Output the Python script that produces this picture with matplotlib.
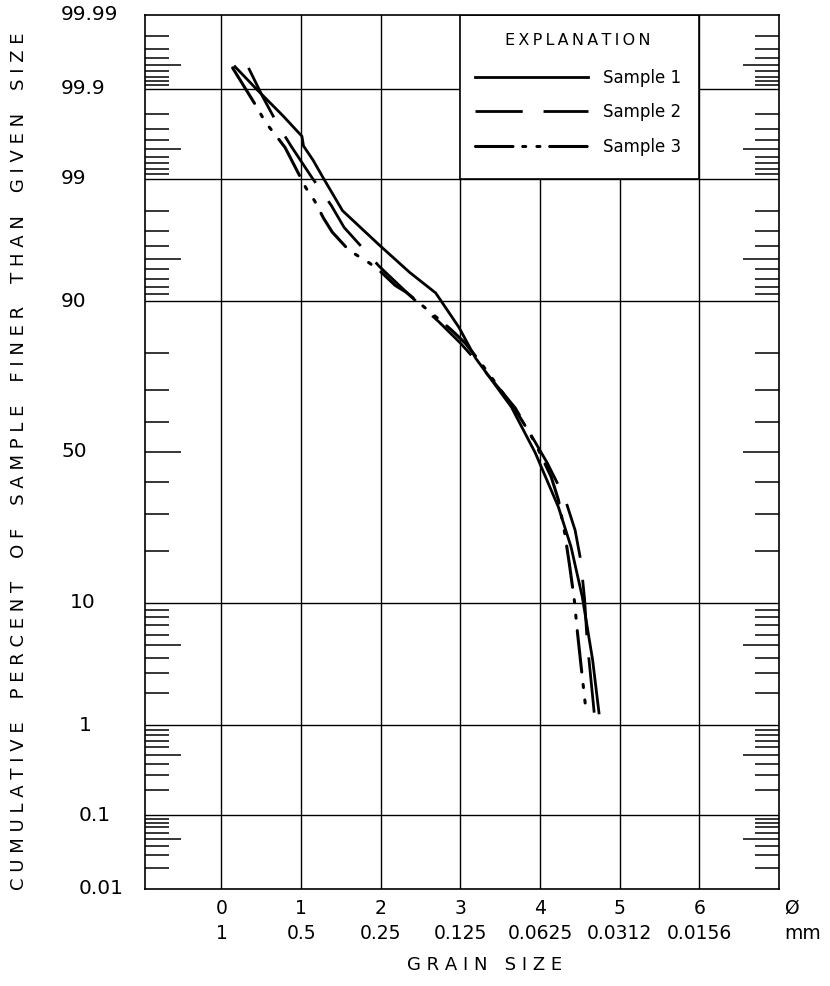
import numpy as np
import matplotlib
matplotlib.use("Agg")
import matplotlib.pyplot as plt
from matplotlib.patches import Rectangle
from matplotlib.lines import Line2D
from matplotlib.ticker import FixedLocator, NullFormatter
from matplotlib.transforms import blended_transform_factory
from statistics import NormalDist

plt.rcParams["font.family"] = ["DejaVu Sans"]
plt.rcParams["lines.scale_dashes"] = False

# grain size (phi) vs cumulative percent finer
phi_1 = [0.17, 0.45, 0.77, 1.01, 1.03, 1.15, 1.27, 1.52, 1.98, 2.36, 2.69,
         2.98, 3.19, 3.64, 3.94, 4.23, 4.39, 4.53, 4.66, 4.74]
pct_1 = [99.948, 99.897, 99.79, 99.64, 99.54, 99.35, 99.04, 98.0, 96.1, 93.7,
         91.2, 85.6, 78.8, 64.9, 49.7, 32.0, 20.9, 10.9, 3.84, 1.32]

phi_2 = [0.34, 0.52, 0.71, 0.88, 1.13, 1.38, 1.54, 1.98, 2.39, 2.73, 3.0,
         3.19, 3.69, 4.09, 4.31, 4.44, 4.51, 4.56, 4.59, 4.68]
pct_2 = [99.946, 99.874, 99.73, 99.53, 99.04, 98.2, 97.2, 94.3, 90.6, 86.6,
         82.3, 78.3, 64.6, 46.3, 34.8, 25.3, 17.9, 10.4, 5.5, 1.32]

phi_3 = [0.14, 0.45, 0.55, 0.68, 0.80, 1.06, 1.17, 1.28, 1.39, 1.60, 1.86,
         2.02, 2.18, 2.32, 2.77, 2.89, 3.06, 3.23, 3.69, 3.80, 3.94, 4.14,
         4.23, 4.31, 4.37, 4.43, 4.47, 4.52, 4.58]
pct_3 = [99.946, 99.83, 99.75, 99.65, 99.52, 98.77, 98.37, 97.68, 96.94, 95.7,
         94.6, 93.6, 92.2, 91.3, 86.6, 85.0, 82.3, 78.3, 64.0, 59.4, 53.0,
         41.6, 34.2, 24.5, 16.8, 10.4, 6.2, 3.2, 1.32]

phi_ticks = [0, 1, 2, 3, 4, 5, 6]
mm_labels = ["1", "0.5", "0.25", "0.125", "0.0625", "0.0312", "0.0156"]

pct_labels = [0.01, 0.1, 1, 10, 50, 90, 99, 99.9, 99.99]
pct_grid = [0.1, 1, 10, 90, 99, 99.9]
pct_long = [0.05, 0.5, 5, 50, 95, 99.5, 99.95]
pct_short = [0.02, 0.03, 0.04, 0.06, 0.07, 0.08, 0.09,
             0.2, 0.3, 0.4, 0.6, 0.7, 0.8, 0.9,
             2, 3, 4, 6, 7, 8, 9,
             20, 30, 40, 60, 70, 80,
             91, 92, 93, 94, 96, 97, 98,
             99.1, 99.2, 99.3, 99.4, 99.6, 99.7, 99.8,
             99.91, 99.92, 99.93, 99.94, 99.96, 99.97, 99.98]

nd = NormalDist()
_ppf = np.vectorize(nd.inv_cdf, otypes=[float])
_cdf = np.vectorize(nd.cdf, otypes=[float])


def forward(p):
    p = np.clip(np.asarray(p, dtype=float) / 100.0, 1e-12, 1 - 1e-12)
    return _ppf(p)


def inverse(z):
    return 100.0 * _cdf(np.asarray(z, dtype=float))


fig = plt.figure(figsize=(8.3, 9.86), dpi=100)
ax = fig.add_axes([145 / 830, 97 / 986, 634 / 830, 874 / 986])
ax.set_yscale("function", functions=(forward, inverse))
ax.set_xlim(-0.96, 7.0)
ax.set_ylim(0.01, 99.99)

for s in ax.spines.values():
    s.set_linewidth(1.2)

# grid
for x in phi_ticks:
    ax.axvline(x, color="black", lw=1.0, zorder=1)
for p in pct_grid:
    ax.axhline(p, color="black", lw=1.0, zorder=1)

# inner ticks on both sides
ax.yaxis.set_major_locator(FixedLocator(pct_long))
ax.yaxis.set_minor_locator(FixedLocator(pct_short))
ax.yaxis.set_major_formatter(NullFormatter())
ax.yaxis.set_minor_formatter(NullFormatter())
ax.tick_params(axis="y", which="major", direction="in", length=26, width=1.1,
               left=True, right=True)
ax.tick_params(axis="y", which="minor", direction="in", length=17, width=1.1,
               left=True, right=True)

# y labels
ytr = blended_transform_factory(fig.transFigure, ax.transData)
for p in pct_labels:
    lab = f"{p:g}"
    x0 = 61 if p >= 50 else (70 if p == 10 else 79)
    ax.text(x0 / 830, p, lab, transform=ytr, ha="left", va="center",
            fontsize=14.5, clip_on=False)

# x labels: phi and mm
ax.set_xticks(phi_ticks, labels=[f"{a}\n{b}" for a, b in zip(phi_ticks, mm_labels)])
ax.tick_params(axis="x", length=0, pad=7, labelsize=13.5)
for t in ax.get_xticklabels():
    t.set_linespacing(1.4)
ax.annotate("Ø\nmm", xy=(7.06, 0), xycoords=blended_transform_factory(ax.transData, ax.transAxes),
            xytext=(0, -7), textcoords="offset points", ha="left", va="top",
            fontsize=13.5, linespacing=1.4, annotation_clip=False)

# curves
ax.plot(phi_1, pct_1, color="black", lw=2.0, zorder=3)
ax.plot(phi_2, pct_2, color="black", lw=2.0, zorder=3, linestyle=(0, (40, 16)))
ax.plot(phi_3, pct_3, color="black", lw=2.2, zorder=3,
        linestyle=(0, (30, 9, 2.2, 9, 2.2, 9)), dash_capstyle="round")

# explanation box
ax.add_patch(Rectangle((3, 99), 3, 0.99, facecolor="white", edgecolor="black",
                       lw=1.2, zorder=2))
handles = [Line2D([], [], color="black", lw=2.0),
           Line2D([], [], color="black", lw=2.0, linestyle=(0, (34, 15))),
           Line2D([], [], color="black", lw=2.2,
                  linestyle=(0, (27, 7, 2.2, 8, 2.2, 7)), dash_capstyle="round")]
leg = ax.legend(handles, ["Sample 1", "Sample 2", "Sample 3"],
                title="E\u2009X\u2009P\u2009L\u2009A\u2009N\u2009A\u2009T\u2009I\u2009O\u2009N",
                loc="upper left", frameon=False, fontsize=12, title_fontsize=11.5,
                handlelength=6.8, handletextpad=0.9, labelspacing=1.0,
                borderpad=0, borderaxespad=0,
                bbox_to_anchor=(3.18, 0.975),
                bbox_transform=blended_transform_factory(ax.transData, ax.transAxes))
leg.get_title().set_position((0, 4))
leg.set_zorder(4)

# axis titles
def spaced(s, gap="    "):
    return gap.join(" ".join(w) for w in s.split())

fig.text(19 / 830, 1 - 461 / 986,
         spaced("CUMULATIVE PERCENT OF SAMPLE FINER THAN GIVEN SIZE"),
         rotation=90, ha="center", va="center", fontsize=13)
fig.text(485 / 830, 1 - 965 / 986, spaced("GRAIN SIZE", "   "),
         ha="center", va="center", fontsize=13)

fig.savefig("out.png", dpi=100)
